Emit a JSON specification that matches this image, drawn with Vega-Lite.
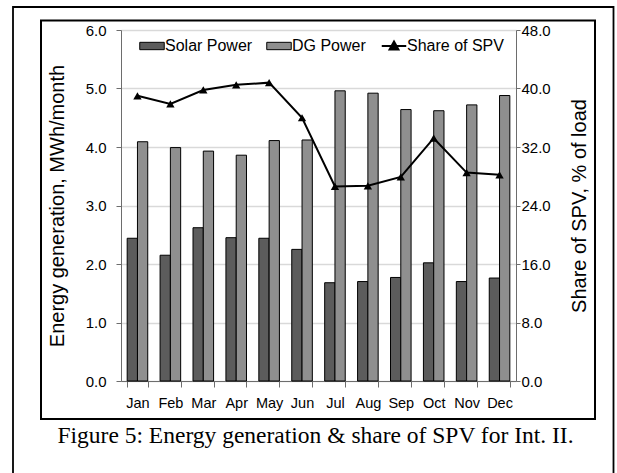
{
  "$schema": "https://vega.github.io/schema/vega-lite/v6.json",
  "width": 395,
  "height": 351,
  "autosize": {"type": "none"},
  "padding": {"left": 121, "top": 30, "right": 101, "bottom": 92},
  "background": "white",
  "config": {"view": {"stroke": null}, "font": "Liberation Sans"},
  "datasets": {
    "energy": [
      {"month": "Jan", "series": "Solar Power", "value": 2.44},
      {"month": "Feb", "series": "Solar Power", "value": 2.15},
      {"month": "Mar", "series": "Solar Power", "value": 2.62},
      {"month": "Apr", "series": "Solar Power", "value": 2.45},
      {"month": "May", "series": "Solar Power", "value": 2.44},
      {"month": "Jun", "series": "Solar Power", "value": 2.25},
      {"month": "Jul", "series": "Solar Power", "value": 1.68},
      {"month": "Aug", "series": "Solar Power", "value": 1.70},
      {"month": "Sep", "series": "Solar Power", "value": 1.77},
      {"month": "Oct", "series": "Solar Power", "value": 2.02},
      {"month": "Nov", "series": "Solar Power", "value": 1.70},
      {"month": "Dec", "series": "Solar Power", "value": 1.76},
      {"month": "Jan", "series": "DG Power", "value": 4.09},
      {"month": "Feb", "series": "DG Power", "value": 3.99},
      {"month": "Mar", "series": "DG Power", "value": 3.93},
      {"month": "Apr", "series": "DG Power", "value": 3.86},
      {"month": "May", "series": "DG Power", "value": 4.11},
      {"month": "Jun", "series": "DG Power", "value": 4.12},
      {"month": "Jul", "series": "DG Power", "value": 4.96},
      {"month": "Aug", "series": "DG Power", "value": 4.92},
      {"month": "Sep", "series": "DG Power", "value": 4.64},
      {"month": "Oct", "series": "DG Power", "value": 4.62},
      {"month": "Nov", "series": "DG Power", "value": 4.72},
      {"month": "Dec", "series": "DG Power", "value": 4.88}
    ],
    "share": [
      {"month": "Jan", "share": 39.0},
      {"month": "Feb", "share": 37.9},
      {"month": "Mar", "share": 39.8},
      {"month": "Apr", "share": 40.5},
      {"month": "May", "share": 40.8},
      {"month": "Jun", "share": 36.0},
      {"month": "Jul", "share": 26.6},
      {"month": "Aug", "share": 26.7},
      {"month": "Sep", "share": 27.9},
      {"month": "Oct", "share": 33.2},
      {"month": "Nov", "share": 28.5},
      {"month": "Dec", "share": 28.2}
    ]
  },
  "layer": [
    {
      "data": {"values": [{"frame": "outer"}]},
      "mark": {"type": "rect", "fill": "transparent", "stroke": "black", "strokeWidth": 1.8},
      "encoding": {"x": {"value": -108}, "x2": {"value": 492.5}, "y": {"value": -23}, "y2": {"value": 470}}
    },
    {
      "data": {"values": [{"frame": "inner"}]},
      "mark": {"type": "rect", "fill": "transparent", "stroke": "black", "strokeWidth": 2},
      "encoding": {"x": {"value": -80}, "x2": {"value": 474}, "y": {"value": -9.5}, "y2": {"value": 389}}
    },
    {
      "data": {"name": "energy"},
      "mark": {"type": "bar", "stroke": "black", "strokeWidth": 1},
      "encoding": {
        "x": {
          "field": "month", "type": "nominal",
          "sort": ["Jan", "Feb", "Mar", "Apr", "May", "Jun", "Jul", "Aug", "Sep", "Oct", "Nov", "Dec"],
          "scale": {"paddingInner": 0.375, "paddingOuter": 0.1875},
          "axis": {
            "title": "Figure 5: Energy generation & share of SPV for Int. II.",
            "titleFont": "Liberation Serif", "titleFontSize": 23.5, "titleFontWeight": "normal",
            "titleColor": "black", "titlePadding": 14, "titleX": 194,
            "tickBand": "extent", "tickSize": 6, "labelPadding": 9, "labelAngle": 0,
            "labelFontSize": 14.5, "labelColor": "black",
            "domainColor": "#6d6d6d", "tickColor": "#6d6d6d", "grid": false
          }
        },
        "xOffset": {"field": "series", "sort": ["Solar Power", "DG Power"], "scale": {"paddingInner": 0, "paddingOuter": 0}},
        "y": {
          "field": "value", "type": "quantitative",
          "scale": {"domain": [0, 6]},
          "axis": {
            "orient": "left", "values": [0, 1, 2, 3, 4, 5, 6], "format": ".1f",
            "title": "Energy generation, MWh/month", "titleFontSize": 20, "titleFontWeight": "normal",
            "titleColor": "black", "titlePadding": 18,
            "labelFontSize": 15, "labelColor": "black", "labelPadding": 10, "tickSize": 5,
            "tickColor": "#6d6d6d", "domainColor": "#6d6d6d",
            "grid": true, "gridColor": "#d9d9d9", "gridWidth": 1.5
          }
        },
        "fill": {
          "field": "series", "type": "nominal",
          "scale": {"domain": ["Solar Power", "DG Power", "Share of SPV"], "range": ["#5c5c5c", "#8f8f8f", "black"]},
          "legend": {
            "orient": "none", "legendX": 23, "legendY": 8, "direction": "horizontal", "columns": 3,
            "title": null, "padding": 0, "labelFontSize": 16, "labelColor": "black", "labelOffset": 5,
            "columnPadding": 11, "symbolSize": 600, "symbolStrokeColor": "black", "symbolStrokeWidth": 1,
            "symbolOpacity": 1,
            "encode": {
              "symbols": {
                "update": {
                  "size": {"value": 600},
                  "shape": {"signal": "datum.value === 'Share of SPV' ? 'M-1,0H1M0,-0.36L0.36,0.28L-0.36,0.28Z' : 'M-1,-0.3H1V0.3H-1Z'"},
                  "strokeWidth": {"signal": "datum.value === 'Share of SPV' ? 2 : 1"}
                }
              }
            }
          }
        }
      }
    },
    {
      "data": {"name": "share"},
      "mark": {
        "type": "line", "color": "black", "strokeWidth": 2,
        "point": {"shape": "triangle-up", "filled": true, "size": 70, "color": "black"}
      },
      "encoding": {
        "x": {"field": "month", "type": "nominal", "sort": ["Jan", "Feb", "Mar", "Apr", "May", "Jun", "Jul", "Aug", "Sep", "Oct", "Nov", "Dec"]},
        "y": {
          "field": "share", "type": "quantitative",
          "scale": {"domain": [0, 48]},
          "axis": {
            "orient": "right", "values": [0, 8, 16, 24, 32, 40, 48], "format": ".1f",
            "title": "Share of SPV, % of load", "titleFontSize": 20, "titleFontWeight": "normal",
            "titleColor": "black", "titleAngle": 270, "titleBaseline": "top", "titlePadding": 19,
            "labelFontSize": 15, "labelColor": "black", "labelPadding": 1, "tickSize": 4,
            "tickColor": "#6d6d6d", "domainColor": "#6d6d6d", "grid": false
          }
        }
      }
    }
  ],
  "resolve": {"scale": {"y": "independent"}}
}
